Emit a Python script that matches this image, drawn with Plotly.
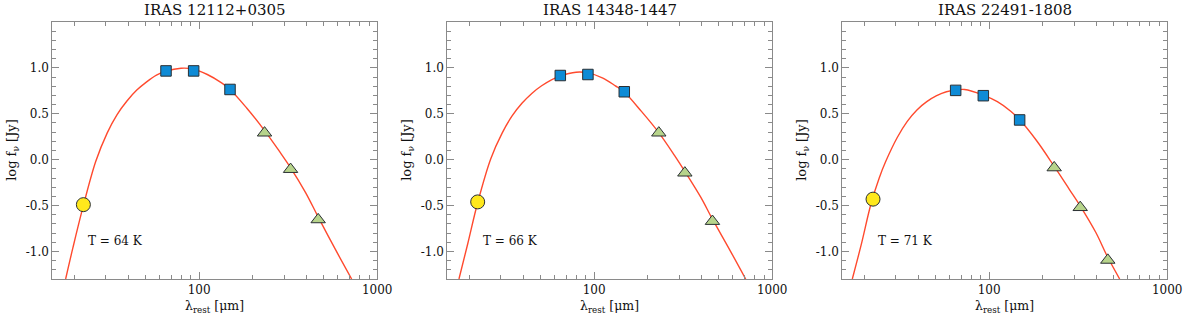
import plotly.graph_objects as go

# ---------------- data ----------------
titles = ["IRAS 12112+0305", "IRAS 14348-1447", "IRAS 22491-1808"]
temps = ["T = 64 K", "T = 66 K", "T = 71 K"]

# rest-frame wavelengths [micron]
circ_wl = [22.4, 22.2, 22.3]
sq_wl = [[65.2, 93.2, 149.1], [64.6, 92.3, 147.7], [64.9, 92.8, 148.4]]
tri_wl = [[233.0, 326.2, 466.0], [230.8, 323.2, 461.7], [231.9, 324.7, 463.8]]

# log flux [Jy]
circ_f = [-0.49, -0.46, -0.43]
sq_f = [[0.967, 0.967, 0.765], [0.917, 0.928, 0.740], [0.755, 0.697, 0.433]]
tri_f = [[0.292, -0.105, -0.653], [0.292, -0.144, -0.671], [-0.087, -0.520, -1.094]]

# fitted curve samples
curve1_wl = [17.81, 19.54, 22.19, 26.30, 30.50, 34.64, 39.34, 44.68, 50.75, 57.62,
             65.16, 79.18, 93.05, 111.2, 131.7, 147.7, 184.9, 231.5, 282.6, 325.1,
             396.8, 464.2, 581.3, 718.4]
curve1_f = [-1.300, -0.964, -0.531, -0.018, 0.292, 0.491, 0.639, 0.758, 0.848, 0.921,
            0.964, 0.996, 0.986, 0.928, 0.845, 0.773, 0.563, 0.325, 0.090, -0.083,
            -0.361, -0.617, -0.975, -1.300]

curve2_wl = [17.43, 19.54, 22.19, 26.30, 30.50, 34.64, 39.34, 44.68, 50.75, 57.62,
             64.60, 79.18, 92.26, 111.2, 131.7, 147.1, 184.9, 229.6, 282.6, 323.7,
             396.8, 460.3, 581.3, 709.3]
curve2_f = [-1.300, -0.913, -0.469, 0.011, 0.292, 0.477, 0.614, 0.722, 0.805, 0.870,
            0.913, 0.953, 0.946, 0.892, 0.805, 0.740, 0.523, 0.300, 0.047, -0.130,
            -0.408, -0.643, -0.993, -1.300]

curve3_wl = [17.06, 19.13, 21.73, 24.16, 26.30, 30.50, 34.64, 39.34, 44.68, 50.75,
             57.62, 64.89, 72.77, 92.67, 111.2, 131.7, 147.7, 184.9, 230.6, 282.6,
             325.1, 396.8, 462.2, 540.8]
curve3_f = [-1.300, -0.928, -0.480, -0.199, -0.018, 0.242, 0.415, 0.542, 0.632, 0.697,
            0.740, 0.758, 0.765, 0.704, 0.632, 0.531, 0.440, 0.206, -0.065, -0.325,
            -0.505, -0.791, -1.058, -1.300]

curves_wl = [curve1_wl, curve2_wl, curve3_wl]
curves_f = [curve1_f, curve2_f, curve3_f]

y_ticks = [-1.0, -0.5, 0.0, 0.5, 1.0]
y_ticktext = ["-1.0", "-0.5", "0.0", "0.5", "1.0"]
y_minor = [-1.2, -1.1, -0.9, -0.8, -0.7, -0.6, -0.4, -0.3, -0.2, -0.1,
           0.1, 0.2, 0.3, 0.4, 0.6, 0.7, 0.8, 0.9, 1.1, 1.2, 1.3, 1.4]
x_ticks = [100, 1000]
x_ticktext = ["100", "1000"]
x_minor = [20, 30, 40, 50, 60, 70, 80, 90, 200, 300, 400, 500, 600, 700, 800, 900]

# ---------------- styling ----------------
W, H = 1200, 318
FONT = "DejaVu Serif"
AX = "#8a8a8a"
RED = "#ff4a2e"
BLUE = "#0e8bd6"
GREEN = "#b7d48b"
YELLOW = "#ffe81c"
EDGE = "#2a2f33"
TXT = "#111111"

px_left = [53, 453, 853]
px_w = 329
top_px, bot_px = 22, 279

fig = go.Figure()

for i in range(3):
    ax = "" if i == 0 else str(i + 1)
    xa, ya = "x" + ax, "y" + ax
    fig.add_trace(go.Scatter(x=curves_wl[i], y=curves_f[i], mode="lines",
                             line=dict(color=RED, width=1.4, shape="spline", smoothing=1.0),
                             xaxis=xa, yaxis=ya, showlegend=False, hoverinfo="skip"))
    fig.add_trace(go.Scatter(x=[circ_wl[i]], y=[circ_f[i]], mode="markers",
                             marker=dict(symbol="circle", size=14, color=YELLOW,
                                         line=dict(color=EDGE, width=1)),
                             xaxis=xa, yaxis=ya, showlegend=False))
    fig.add_trace(go.Scatter(x=sq_wl[i], y=sq_f[i], mode="markers",
                             marker=dict(symbol="square", size=10.5, color=BLUE,
                                         line=dict(color=EDGE, width=1)),
                             xaxis=xa, yaxis=ya, showlegend=False))
    fig.add_trace(go.Scatter(x=tri_wl[i], y=tri_f[i], mode="markers",
                             marker=dict(symbol="triangle-up", size=12.5, color=GREEN,
                                         line=dict(color=EDGE, width=1)),
                             xaxis=xa, yaxis=ya, showlegend=False))

    x0 = px_left[i] / W
    x1 = (px_left[i] + px_w) / W
    common = dict(showline=True, linecolor=AX, linewidth=1, mirror="ticks",
                  ticks="inside", tickcolor=AX, ticklen=7, tickwidth=1,
                  showgrid=False, zeroline=False,
                  tickfont=dict(family=FONT, size=12, color=TXT))
    fig.update_layout(**{
        "xaxis" + ax: dict(type="log", range=[1.176, 3.0], domain=[x0, x1],
                           anchor=ya, tickvals=x_ticks, ticktext=x_ticktext,
                           minor=dict(tickvals=x_minor, ticks="inside", ticklen=4,
                                      tickcolor=AX, showgrid=False),
                           **common),
        "yaxis" + ax: dict(range=[-1.3, 1.5], domain=[1 - bot_px / H, 1 - top_px / H],
                           anchor=xa, tickvals=y_ticks, ticktext=y_ticktext,
                           minor=dict(tickvals=y_minor, ticks="inside", ticklen=4,
                                      tickcolor=AX, showgrid=False),
                           **common),
    })

    cx = (px_left[i] + px_w / 2) / W
    fig.add_annotation(text=titles[i], x=cx, y=1 - 10 / H, xref="paper", yref="paper",
                       showarrow=False, xanchor="center", yanchor="middle",
                       font=dict(family=FONT, size=15, color=TXT))
    fig.add_annotation(text="λ<sub>rest</sub> [μm]", x=cx, y=1 - 306 / H,
                       xref="paper", yref="paper", showarrow=False,
                       xanchor="center", yanchor="middle",
                       font=dict(family=FONT, size=12.5, color=TXT))
    fig.add_annotation(text="log f<sub>ν</sub> [Jy]", x=(px_left[i] - 41) / W,
                       y=1 - 150 / H, xref="paper", yref="paper", showarrow=False,
                       textangle=-90, xanchor="center", yanchor="middle",
                       font=dict(family=FONT, size=13, color=TXT))
    # annotation on a log axis takes log10(x)
    fig.add_annotation(text=temps[i], x=1.3655, y=-0.885, xref=xa, yref=ya,
                       showarrow=False, xanchor="left", yanchor="middle",
                       font=dict(family=FONT, size=12, color=TXT))

fig.update_layout(width=W, height=H, margin=dict(l=0, r=0, t=0, b=0),
                  paper_bgcolor="white", plot_bgcolor="white")

fig.write_html("out.html", config={"displayModeBar": False},
               post_script="document.body.style.margin='0px';")
